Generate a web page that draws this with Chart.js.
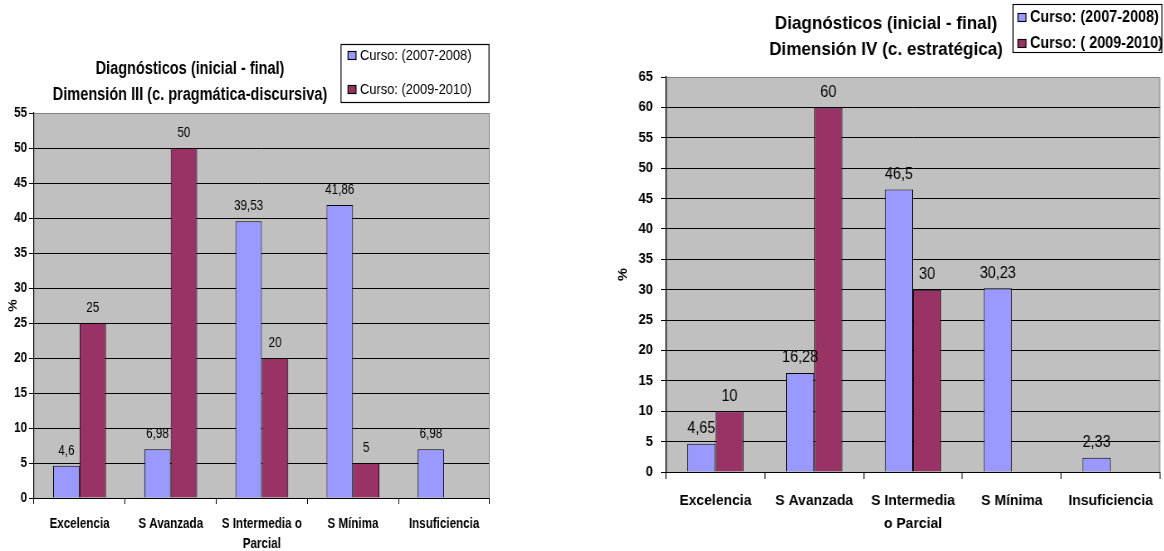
<!DOCTYPE html>
<html>
<head>
<meta charset="utf-8">
<script src="https://cdn.jsdelivr.net/npm/chart.js@4.4.1/dist/chart.umd.min.js"></script>
<style>
  html, body { margin: 0; padding: 0; background: #fff; width: 1164px; height: 551px; overflow: hidden; }
  canvas { position: absolute; top: 0; transform-origin: 0 0; }
</style>
</head>
<body>
<canvas id="dimIII"></canvas>
<canvas id="dimIV"></canvas>
<script>
// Categories (achievement levels)
const levelsIII = ['Excelencia', 'S Avanzada', ['S Intermedia o', 'Parcial'], 'S Mínima', 'Insuficiencia'];
const levelsIV = ['Excelencia', 'S Avanzada', ['S Intermedia', 'o Parcial'], 'S Mínima', 'Insuficiencia'];

// Dimension III (pragmatic-discursive competence), percentages
const dimIII_2007_2008 = [4.6, 6.98, 39.53, 41.86, 6.98];
const dimIII_2009_2010 = [25, 50, 20, 5, null];

// Dimension IV (strategic competence), percentages
const dimIV_2007_2008 = [4.65, 16.28, 46.5, 30.23, 2.33];
const dimIV_2009_2010 = [10, 60, 30, null, null];

// Series names
const seriesIII = ['Curso: (2007-2008)', 'Curso: (2009-2010)'];
const seriesIV = ['Curso: (2007-2008)', 'Curso: ( 2009-2010)'];

// Y axis ranges
const yMaxIII = 55;
const yMaxIV = 65;
const yStep = 5;

const FONT = '"Liberation Sans", Arial, sans-serif';
const BLUE = '#9999FF';
const MAROON = '#993366';

Chart.defaults.font.family = FONT;
Chart.defaults.color = '#000';

function fmt(v) {
  return String(v).replace('.', ',');
}

// Gray plot area, thin frame, value labels, title and boxed legend.
// Horizontal positions are given in page pixels and divided by the
// canvas' horizontal squeeze factor k (narrow lettering).
function decorations(cfg, k) {
  return {
    id: 'decor',
    beforeDraw(chart) {
      const a = chart.chartArea, ctx = chart.ctx;
      ctx.save();
      ctx.fillStyle = '#C0C0C0';
      ctx.fillRect(a.left, a.top, a.right - a.left, a.bottom - a.top);
      ctx.restore();
    },
    afterDraw(chart) {
      const a = chart.chartArea, ctx = chart.ctx;
      ctx.save();
      // frame (top and right)
      ctx.strokeStyle = '#808080';
      ctx.lineWidth = 1;
      ctx.beginPath();
      ctx.moveTo(a.left, Math.round(a.top) + 0.5);
      ctx.lineTo(a.right - 0.5, Math.round(a.top) + 0.5);
      ctx.lineTo(a.right - 0.5, Math.round(a.bottom));
      ctx.stroke();

      // value labels
      ctx.font = cfg.valueFont;
      ctx.fillStyle = '#000';
      ctx.textAlign = 'center';
      ctx.textBaseline = 'middle';
      chart.data.datasets.forEach((ds, di) => {
        const meta = chart.getDatasetMeta(di);
        meta.data.forEach((bar, i) => {
          const v = ds.data[i];
          if (v === null || v === undefined) return;
          ctx.fillText(fmt(v), bar.x, bar.y - cfg.valueGap);
        });
      });

      // title
      ctx.font = cfg.titleFont;
      cfg.title.forEach((line, i) => {
        ctx.fillText(line, cfg.titleX / k, cfg.titleY + i * cfg.titleLine);
      });

      // legend
      const L = cfg.legend;
      ctx.strokeStyle = '#000';
      ctx.lineWidth = 1 / k;
      ctx.strokeRect(L.x / k, L.y + 0.5, L.w / k, L.h);
      ctx.font = cfg.legendFont;
      ctx.textAlign = 'left';
      chart.data.datasets.forEach((ds, di) => {
        const cy = L.itemY[di];
        const sx = L.swatchX / k, sw = 8 / k;
        ctx.fillStyle = ds.backgroundColor;
        ctx.fillRect(sx, cy - 4, sw, 8);
        ctx.strokeStyle = '#000';
        ctx.strokeRect(sx, cy - 4 + 0.5, sw, 8);
        ctx.fillStyle = '#000';
        ctx.fillText(ds.label, L.textX / k, cy + 1);
      });
      ctx.restore();
    }
  };
}

function buildChart(id, o) {
  const k = o.k;
  const canvas = document.getElementById(id);
  canvas.width = Math.round(o.width / k);
  canvas.height = 551;
  canvas.style.left = o.left + 'px';
  canvas.style.transform = 'scaleX(' + k + ')';
  return new Chart(canvas, {
    type: 'bar',
    data: {
      labels: o.labels,
      datasets: [
        { label: o.series[0], data: o.a, backgroundColor: BLUE, borderColor: '#000', borderWidth: 1 },
        { label: o.series[1], data: o.b, backgroundColor: MAROON, borderColor: '#000', borderWidth: 1 }
      ]
    },
    options: {
      responsive: false,
      animation: false,
      devicePixelRatio: 1,
      layout: { padding: { top: o.plotTop, right: o.padRight / k, bottom: 0, left: 0 } },
      datasets: { bar: { categoryPercentage: o.catPct, barPercentage: 1 } },
      plugins: { legend: { display: false }, title: { display: false }, tooltip: { enabled: false } },
      scales: {
        x: {
          grid: { display: true, drawOnChartArea: false, drawTicks: true, tickLength: o.xTickLen, color: '#000', offset: true },
          border: { color: '#000' },
          ticks: { font: { size: o.xFont, weight: 'bold', lineHeight: o.xLine }, padding: o.xPad, maxRotation: 0, autoSkip: false, color: '#000' },
          afterFit(s) { s.height = 551 - o.plotBottom; }
        },
        y: {
          min: 0,
          max: o.yMax,
          ticks: { stepSize: yStep, font: { size: o.yFont, weight: 'bold' }, padding: o.yPad / k, color: '#000' },
          grid: {
            color: (c) => (c.tick && c.tick.value === o.yMax ? 'rgba(0,0,0,0)' : '#000'),
            tickColor: '#000',
            tickLength: o.yTickLen / k,
            drawTicks: true
          },
          border: { color: '#000', width: 1.2 },
          title: { display: true, text: '%', font: { size: o.yFont, weight: 'bold' }, padding: { top: o.pctX / k - o.yFont * 0.6, bottom: 0 }, color: '#000' },
          afterFit(s) { s.width = o.plotLeft / k; }
        }
      }
    },
    plugins: [decorations(o.decor, k)]
  });
}

buildChart('dimIII', {
  labels: levelsIII, series: seriesIII, a: dimIII_2007_2008, b: dimIII_2009_2010,
  yMax: yMaxIII, catPct: 0.58,
  k: 0.83, left: 0, width: 500,
  plotLeft: 34, padRight: 10, plotTop: 113, plotBottom: 498,
  xTickLen: 6, xFont: 14, xLine: '20px', xPad: 10,
  yTickLen: 5, yFont: 14, yPad: 2, pctX: 13,
  decor: {
    valueFont: '14px ' + FONT, valueGap: 15,
    titleFont: 'bold 17.5px ' + FONT, title: ['Diagnósticos (inicial - final)', 'Dimensión III (c. pragmática-discursiva)'],
    titleX: 190, titleY: 69, titleLine: 26,
    legendFont: '15.5px ' + FONT,
    legend: { x: 341, y: 44, w: 148, h: 58, swatchX: 348, textX: 360, itemY: [55, 89] }
  }
});

buildChart('dimIV', {
  labels: levelsIV, series: seriesIV, a: dimIV_2007_2008, b: dimIV_2009_2010,
  yMax: yMaxIV, catPct: 0.57,
  k: 0.9, left: 580, width: 584,
  plotLeft: 86, padRight: 4, plotTop: 77, plotBottom: 472,
  xTickLen: 7, xFont: 15.5, xLine: '23px', xPad: 10,
  yTickLen: 5, yFont: 14.5, yPad: 8, pctX: 43,
  decor: {
    valueFont: '16px ' + FONT, valueGap: 15,
    titleFont: 'bold 19px ' + FONT, title: ['Diagnósticos (inicial - final)', 'Dimensión IV (c. estratégica)'],
    titleX: 306, titleY: 24, titleLine: 26,
    legendFont: 'bold 16px ' + FONT,
    legend: { x: 433, y: 4, w: 149, h: 48, swatchX: 438, textX: 450, itemY: [17, 43] }
  }
});
</script>
</body>
</html>
